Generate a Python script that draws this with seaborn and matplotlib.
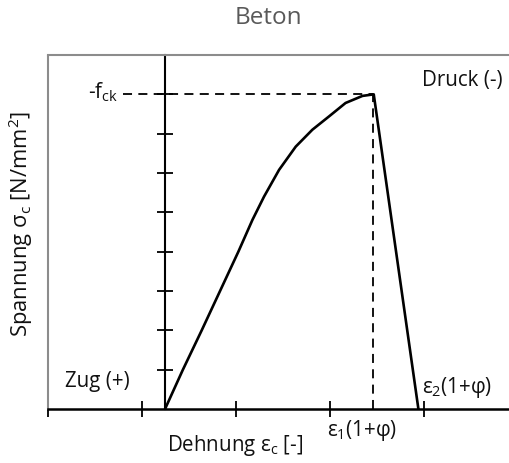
import matplotlib
matplotlib.use('Agg')
import matplotlib.pyplot as plt
import pandas as pd
import seaborn as sns

# values (x in tick units, origin at the y axis)
strain = [0.0, 0.19, 0.39, 0.585, 0.78, 0.93, 1.053, 1.213, 1.39, 1.567, 1.745, 1.92, 2.10, 2.22, 2.695]
stress = [0.0, 1.0, 2.0, 3.0, 4.0, 4.81, 5.40, 6.08, 6.67, 7.10, 7.44, 7.78, 7.96, 8.0, 0.0]
fck = 8.0
eps1 = 2.21
x_ticks = [-1.245, -0.25, 0.75, 1.75, 2.75]
y_ticks = [1, 2, 3, 4, 5, 6, 7, 8, 9]

df = pd.DataFrame({'strain': strain, 'stress': stress})

sns.set_style('white')
plt.rcParams['font.family'] = ['Open Sans', 'DejaVu Sans']
plt.rcParams['mathtext.fontset'] = 'custom'
plt.rcParams['mathtext.rm'] = 'Open Sans'
plt.rcParams['mathtext.it'] = 'Open Sans:italic'

fig = plt.figure(figsize=(5.09, 4.63), dpi=100)
ax = fig.add_axes([48 / 509, 54 / 463, 463 / 509, 354 / 463])

sns.lineplot(data=df, x='strain', y='stress', sort=False, color='black', linewidth=1.9, ax=ax)

# dashed helper lines to the peak
ax.plot([-0.45, eps1], [fck, fck], color='black', linestyle=(0, (5, 3.5)), linewidth=1.3)
ax.plot([eps1, eps1], [0, fck], color='black', linestyle=(0, (5, 3.5)), linewidth=1.3)

ax.set_xlim(-1.245, 3.68)
ax.set_ylim(0, 9)

# axes through the origin
ax.spines['left'].set_position(('data', 0))
ax.spines['left'].set_color('black')
ax.spines['left'].set_linewidth(1.5)
ax.spines['bottom'].set_color('black')
ax.spines['bottom'].set_linewidth(1.8)
ax.spines['top'].set_color('#8c8c8c')
ax.spines['top'].set_linewidth(1.5)
ax.spines['right'].set_visible(False)
ax.plot([0, 0], [0, 1], transform=ax.transAxes, color='#8c8c8c', linewidth=1.5, clip_on=False)

ax.set_xticks(x_ticks)
ax.set_yticks(y_ticks)
ax.tick_params(direction='inout', length=11, width=1.3, color='black',
               labelbottom=False, labelleft=False, bottom=True, left=True)
ax.set_xlabel('')
ax.set_ylabel('')

txt = '#111111'
fs = 14.8
ax.text(-0.5, fck + 0.05, '-f$_\\mathrm{ck}$', ha='right', va='center', fontsize=fs, color=txt)
ax.text(3.585, 8.36, 'Druck (-)', ha='right', va='center', fontsize=fs, color=txt)
ax.text(-1.064, 0.70, 'Zug (+)', ha='left', va='center', fontsize=fs, color=txt)
ax.text(2.73, 0.55, '\u03b5$_\\mathrm{2}$(1+\u03c6)', ha='left', va='center', fontsize=fs, color=txt)
ax.text(1.72, -0.55, '\u03b5$_\\mathrm{1}$(1+\u03c6)', ha='left', va='center', fontsize=fs, color=txt, clip_on=False)

fig.text(235 / 509, 1 - 445 / 463, 'Dehnung \u03b5$_\\mathrm{c}$ [-]', ha='center', va='center', fontsize=fs, color=txt)
fig.text(21 / 509, 1 - 224 / 463, 'Spannung \u03c3$_\\mathrm{c}$ [N/mm$^\\mathrm{2}$]', ha='center', va='center',
         rotation=90, fontsize=15.8, color=txt)
fig.text(268 / 509, 1 - 18 / 463, 'Beton', ha='center', va='center', fontsize=17.5, color='#595959')

fig.savefig('out.png', dpi=100)
